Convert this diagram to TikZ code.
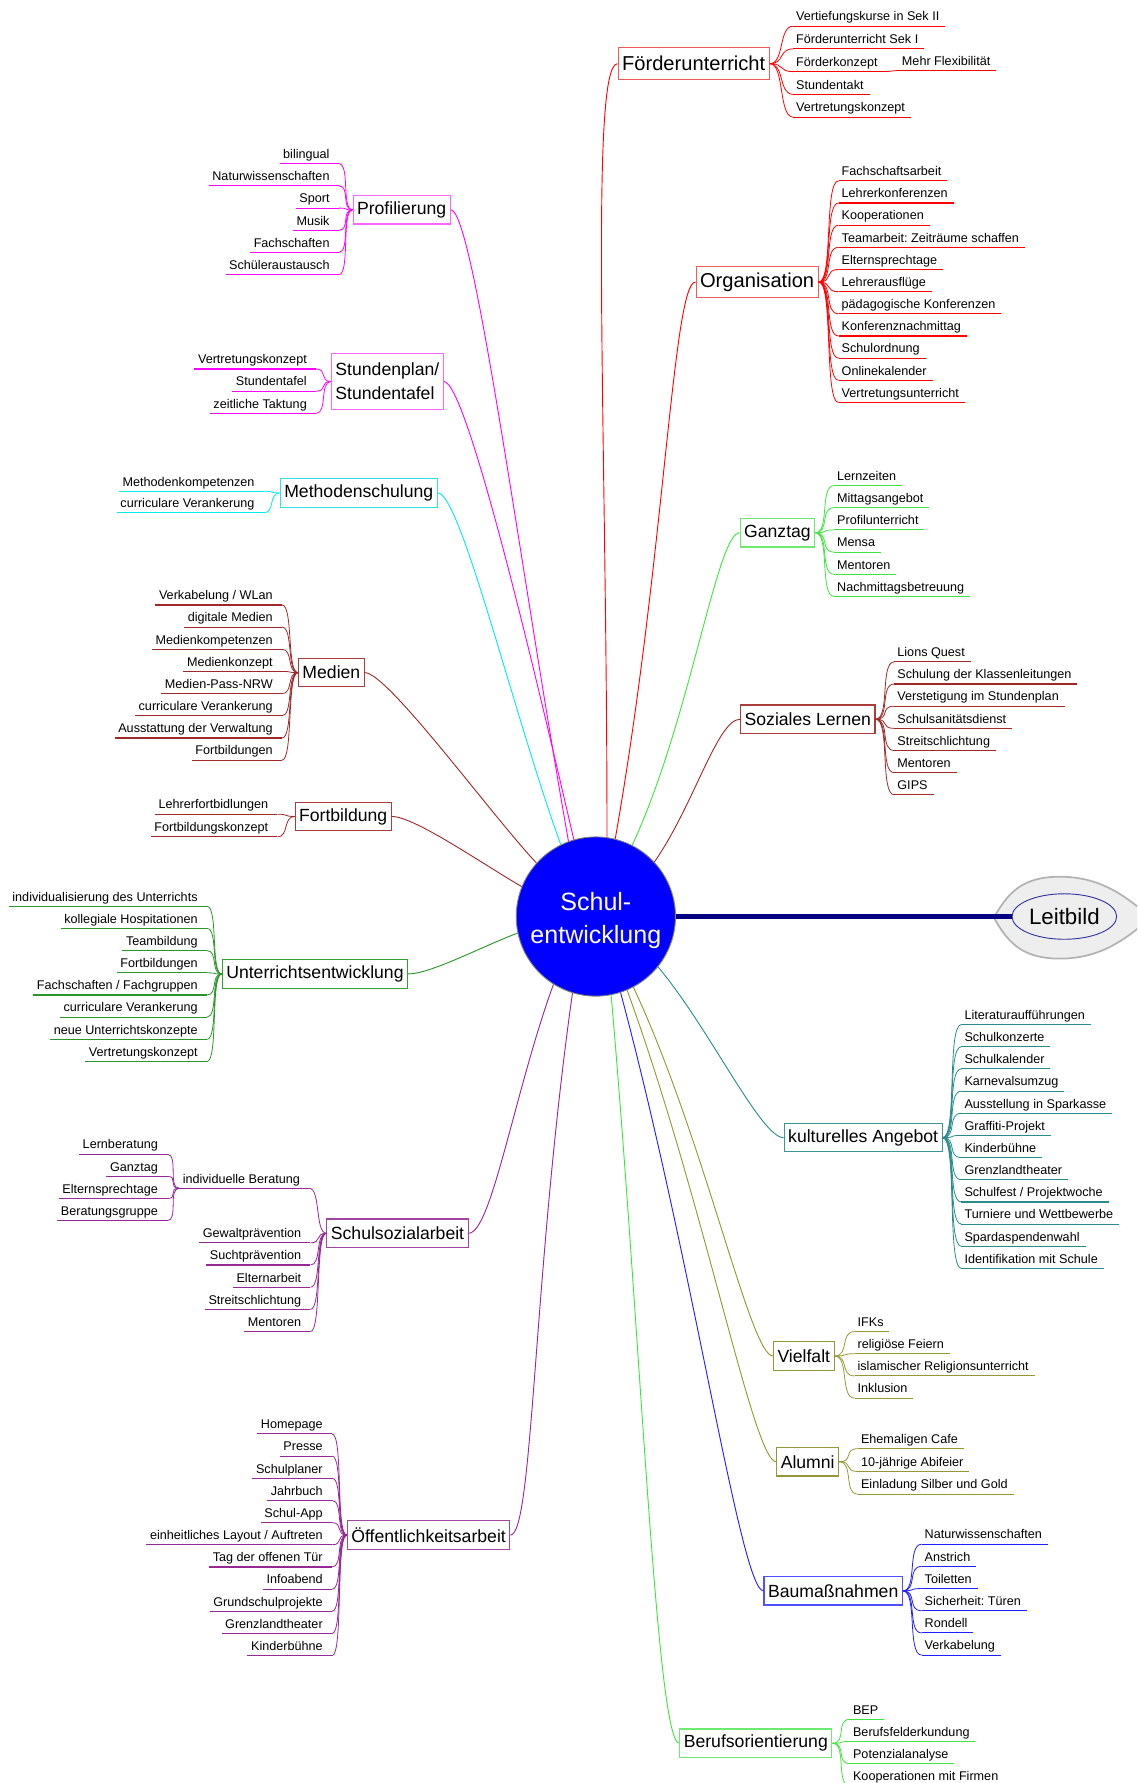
\documentclass[tikz,border=0pt]{standalone}
\usepackage{fontspec}
\setmainfont{Liberation Sans}
\usetikzlibrary{shapes.geometric}
\frenchspacing
\definecolor{cRed}{RGB}{255,0,0}
\definecolor{cRedBox}{RGB}{240,90,90}
\definecolor{cMag}{RGB}{255,0,255}
\definecolor{cMagBox}{RGB}{255,100,255}
\definecolor{cCyan}{RGB}{0,235,235}
\definecolor{cCyanBox}{RGB}{50,225,225}
\definecolor{cBrown}{RGB}{160,40,40}
\definecolor{cBrownBox}{RGB}{170,60,60}
\definecolor{cDGreen}{RGB}{40,150,40}
\definecolor{cDGreenBox}{RGB}{50,160,50}
\definecolor{cLGreen}{RGB}{60,230,60}
\definecolor{cLGreenBox}{RGB}{110,235,110}
\definecolor{cTeal}{RGB}{40,140,140}
\definecolor{cTealBox}{RGB}{60,150,150}
\definecolor{cOlive}{RGB}{150,150,50}
\definecolor{cOliveBox}{RGB}{150,150,60}
\definecolor{cBlue}{RGB}{30,30,255}
\definecolor{cBlueBox}{RGB}{80,80,255}
\definecolor{cPurple}{RGB}{150,40,150}
\definecolor{cPurpleBox}{RGB}{160,70,160}
\definecolor{cNavy}{RGB}{0,0,128}
\definecolor{cNavyL}{RGB}{50,50,160}
\definecolor{cCore}{RGB}{0,0,255}
\newcommand\fLeaf{\fontsize{11.1}{13}\selectfont}
\newcommand\fMain{\fontsize{15.5}{21}\selectfont}
\newcommand\fBig{\fontsize{17.7}{21}\selectfont}
\newcommand\fCenter{\fontsize{22}{28.5}\selectfont}
\newcommand\fLeit{\fontsize{19.6}{22}\selectfont}
% right-hand children: #1 parent anchor, #2 prefix, #3 x, #4 colour, #5 list
\newcommand\kidsR[5]{%
  \foreach \yy/\lab [count=\idx] in {#5}{%
    \node[leafR] (#2\idx) at (#3,\yy) {\lab\hspace*{2.5pt}};
    \draw[ul,#4] (#2\idx.south west) -- (#2\idx.south east);
    \draw[kid,#4] (#1) .. controls +(13,0) and +(-13,0) .. (#2\idx.south west);
  }}
% left-hand children
\newcommand\kidsL[5]{%
  \foreach \yy/\lab [count=\idx] in {#5}{%
    \node[leafL] (#2\idx) at (#3,\yy) {\lab\hspace*{5pt}};
    \draw[ul,#4] (#2\idx.south west) -- (#2\idx.south east);
    \draw[kid,#4] (#1) .. controls +(-10,0) and +(10,0) .. (#2\idx.south east);
  }}
\begin{document}
\begin{tikzpicture}[x=1pt,y=-1pt,
  leafR/.style={font=\fLeaf, inner xsep=2.5pt, inner ysep=4.4pt, text height=8.2pt, text depth=0pt, anchor=south west},
  leafL/.style={leafR, inner xsep=3pt, anchor=south east},
  ul/.style={line width=1pt},
  kid/.style={line width=0.7pt},
  conn/.style={line width=0.8pt},
  mainbox/.style={draw, line width=1pt, font=\fMain, inner xsep=3.5pt, inner ysep=2pt, minimum height=25pt, text=black},
  bigbox/.style={mainbox, font=\fBig, minimum height=28pt}]
\useasboundingbox (0,0) rectangle (1000,1568);
\fill[white] (0,0) rectangle (1000,1568);
\clip (0,0) rectangle (1000,1568);

% centre
\node[circle, fill=cCore, draw=gray, line width=0.8pt, minimum size=140pt, inner sep=0pt] (c) at (524,806) {};
\node[text=white, align=center, font=\fCenter] (ctext) at (524,809.5) {Schul-\\entwicklung};

% Leitbild
\path[draw=gray!60, fill=gray!13, line width=1.5pt] (874,807) .. controls (886,786) and (898,771) .. (932,771)
  .. controls (966,771) and (988,786) .. (1012,807) .. controls (988,828) and (966,843) .. (932,843)
  .. controls (898,843) and (886,828) .. (874,807) -- cycle;
\node[ellipse, draw=cNavyL, line width=0.8pt, minimum width=92pt, minimum height=40pt, inner sep=0pt, font=\fLeit] (lb) at (936,806) {Leitbild};
\draw[cNavy, line width=4pt] (c.east) -- (lb.west);

% main nodes
\node[bigbox, draw=cRedBox, anchor=east] (fu) at (677,56) {Förderunterricht};
\node[bigbox, draw=cRedBox, anchor=east] (org) at (720,248) {Organisation};
\node[mainbox, draw=cLGreenBox, anchor=east] (gt) at (717,468.5) {Ganztag};
\node[mainbox, draw=cBrownBox, anchor=east] (sl) at (770,632.5) {Soziales Lernen};
\node[mainbox, draw=cTealBox, anchor=east] (ka) at (829,1000.5) {kulturelles Angebot};
\node[mainbox, draw=cOliveBox, anchor=east] (vf) at (734,1192.5) {Vielfalt};
\node[mainbox, draw=cOliveBox, anchor=east] (al) at (738,1285.5) {Alumni};
\node[mainbox, draw=cBlueBox, anchor=east] (bm) at (794,1399) {Baumaßnahmen};
\node[mainbox, draw=cLGreenBox, anchor=east] (bo) at (732,1533) {Berufsorientierung};
\node[mainbox, draw=cMagBox, anchor=west] (pr) at (310,184.5) {Profilierung};
\node[mainbox, draw=cMagBox, anchor=west, align=left, minimum height=49pt] (sp) at (291,335.5) {Stundenplan/\\Stundentafel};
\node[mainbox, draw=cCyanBox, anchor=west] (ms) at (246,433.5) {Methodenschulung};
\node[mainbox, draw=cBrownBox, anchor=west] (me) at (262,591.5) {Medien};
\node[mainbox, draw=cBrownBox, anchor=west] (fb) at (259,718) {Fortbildung};
\node[mainbox, draw=cDGreenBox, anchor=west] (ue) at (195,856.5) {Unterrichtsentwicklung};
\node[mainbox, draw=cPurpleBox, anchor=west] (ssa) at (287,1084.5) {Schulsozialarbeit};
\node[mainbox, draw=cPurpleBox, anchor=west] (oe) at (305,1350) {Öffentlichkeitsarbeit};

% connectors from centre
\draw[conn,cRed] (c.82) .. controls +(90:350pt) and +(-25,0) .. (fu.west);
\draw[conn,cRed] (c.76) .. controls +(80:250pt) and +(-20,0) .. (org.west);
\draw[conn,cLGreen] (c.63) .. controls +(65:120pt) and +(-20,0) .. (gt.west);
\draw[conn,cBrown] (c.43) .. controls +(55:60pt) and +(-20,0) .. (sl.west);
\draw[conn,cTeal] (c.321) .. controls +(-50:70pt) and +(-20,0) .. (ka.west);
\draw[conn,cOlive] (c.298) .. controls +(-65:150pt) and +(-20,0) .. (vf.west);
\draw[conn,cOlive] (c.293) .. controls +(-70:200pt) and +(-20,0) .. (al.west);
\draw[conn,cBlue] (c.288) .. controls +(-75:250pt) and +(-20,0) .. (bm.west);
\draw[conn,cLGreen] (c.281) .. controls +(-85:300pt) and +(-20,0) .. (bo.west);
\draw[conn,cMag] (c.110) .. controls +(100:250pt) and +(20,0) .. (pr.east);
\draw[conn,cMag] (c.106) .. controls +(103:150pt) and +(20,0) .. (sp.east);
\draw[conn,cCyan] (c.116) .. controls +(110:120pt) and +(20,0) .. (ms.east);
\draw[conn,cBrown] (c.138) .. controls +(133:60pt) and +(20,0) .. (me.east);
\draw[conn,cBrown] (c.158) .. controls +(150:40pt) and +(20,0) .. (fb.east);
\draw[conn,cDGreen] (c.192) .. controls +(200:30pt) and +(20,0) .. (ue.east);
\draw[conn,cPurple] (c.238) .. controls +(250:100pt) and +(20,0) .. (ssa.east);
\draw[conn,cPurple] (c.253) .. controls +(262:250pt) and +(20,0) .. (oe.east);

% right children
\kidsR{fu.east}{fuk}{697.5}{cRed}{23/{Vertiefungskurse in Sek II},43/{Förderunterricht Sek I},63/{Förderkonzept},83/{Stundentakt},103/{Vertretungskonzept}}
\node[leafR] (mf) at (790.5,62) {Mehr Flexibilität\hspace*{2.5pt}};
\draw[ul,cRed] (mf.south west) -- (mf.south east);
\draw[kid,cRed] (fuk3.south east) .. controls +(5,0) and +(-5,0) .. (mf.south west);

\kidsR{org.east}{ork}{737.5}{cRed}{159/{Fachschaftsarbeit},178.5/{Lehrerkonferenzen},198/{Kooperationen},217.5/{Teamarbeit: Zeiträume schaffen},237/{Elternsprechtage},256.5/{Lehrerausflüge},276/{pädagogische Konferenzen},295.5/{Konferenznachmittag},315/{Schulordnung},334.5/{Onlinekalender},354/{Vertretungsunterricht}}

\kidsR{gt.east}{gtk}{733.5}{cLGreen}{427/{Lernzeiten},446.5/{Mittagsangebot},466/{Profilunterricht},485.5/{Mensa},505/{Mentoren},524.5/{Nachmittagsbetreuung}}

\kidsR{sl.east}{slk}{786.5}{cBrown}{582/{Lions Quest},601.5/{Schulung der Klassenleitungen},621/{Verstetigung im Stundenplan},640.5/{Schulsanitätsdienst},660/{Streitschlichtung},679.5/{Mentoren},699/{GIPS}}

\kidsR{ka.east}{kak}{845.5}{cTeal}{901/{Literaturaufführungen},920.5/{Schulkonzerte},940/{Schulkalender},959.5/{Karnevalsumzug},979/{Ausstellung in Sparkasse},998.5/{Graffiti-Projekt},1018/{Kinderbühne},1037.5/{Grenzlandtheater},1057/{Schulfest / Projektwoche},1076.5/{Turniere und Wettbewerbe},1096/{Spardaspendenwahl},1115.5/{Identifikation mit Schule}}

\kidsR{vf.east}{vfk}{751.5}{cOlive}{1171/{IFKs},1190.5/{religiöse Feiern},1210/{islamischer Religionsunterricht},1229.5/{Inklusion}}

\kidsR{al.east}{alk}{754.5}{cOlive}{1274/{Ehemaligen Cafe},1294/{10-jährige Abifeier},1314/{Einladung Silber und Gold}}

\kidsR{bm.east}{bmk}{810.5}{cBlue}{1358/{Naturwissenschaften},1377.5/{Anstrich},1397/{Toiletten},1416.5/{Sicherheit: Türen},1436/{Rondell},1455.5/{Verkabelung}}

\kidsR{bo.east}{bok}{747.5}{cLGreen}{1512/{BEP},1531.5/{Berufsfelderkundung},1551/{Potenzialanalyse},1570.5/{Kooperationen mit Firmen}}

% left children
\kidsL{pr.west}{prk}{298}{cMag}{144/{bilingual},163.5/{Naturwissenschaften},183/{Sport},202.5/{Musik},222/{Fachschaften},241.5/{Schüleraustausch}}

\kidsL{sp.west}{spk}{278}{cMag}{324.5/{Vertretungskonzept},344/{Stundentafel},363.5/{zeitliche Taktung}}

\kidsL{ms.west}{msk}{232}{cCyan}{432/{Methodenkompetenzen},451/{curriculare Verankerung}}

\kidsL{me.west}{mek}{248}{cBrown}{532/{Verkabelung / WLan},551.5/{digitale Medien},571/{Medienkompetenzen},590.5/{Medienkonzept},610/{Medien-Pass-NRW},629.5/{curriculare Verankerung},649/{Ausstattung der Verwaltung},668.5/{Fortbildungen}}

\kidsL{fb.west}{fbk}{244}{cBrown}{716/{Lehrerfortbidlungen},736/{Fortbildungskonzept}}

\kidsL{ue.west}{uek}{182}{cDGreen}{797/{individualisierung des Unterrichts},816.5/{kollegiale Hospitationen},836/{Teambildung},855.5/{Fortbildungen},875/{Fachschaften / Fachgruppen},894.5/{curriculare Verankerung},914/{neue Unterrichtskonzepte},933.5/{Vertretungskonzept}}

\node[leafL] (ib) at (272,1045) {individuelle Beratung\hspace*{5pt}};
\draw[ul,cPurple] (ib.south west) -- (ib.south east);
\draw[kid,cPurple] (ssa.west) .. controls +(-10,0) and +(10,0) .. (ib.south east);
\kidsL{ib.south west}{ibk}{147}{cPurple}{1015/{Lernberatung},1034.5/{Ganztag},1054/{Elternsprechtage},1073.5/{Beratungsgruppe}}

\kidsL{ssa.west}{ssk}{273}{cPurple}{1093/{Gewaltprävention},1112.5/{Suchtprävention},1132/{Elternarbeit},1151.5/{Streitschlichtung},1171/{Mentoren}}

\kidsL{oe.west}{oek}{292}{cPurple}{1261/{Homepage},1280.5/{Presse},1300/{Schulplaner},1319.5/{Jahrbuch},1339/{Schul-App},1358.5/{einheitliches Layout / Auftreten},1378/{Tag der offenen Tür},1397.5/{Infoabend},1417/{Grundschulprojekte},1436.5/{Grenzlandtheater},1456/{Kinderbühne}}
\end{tikzpicture}
\end{document}
